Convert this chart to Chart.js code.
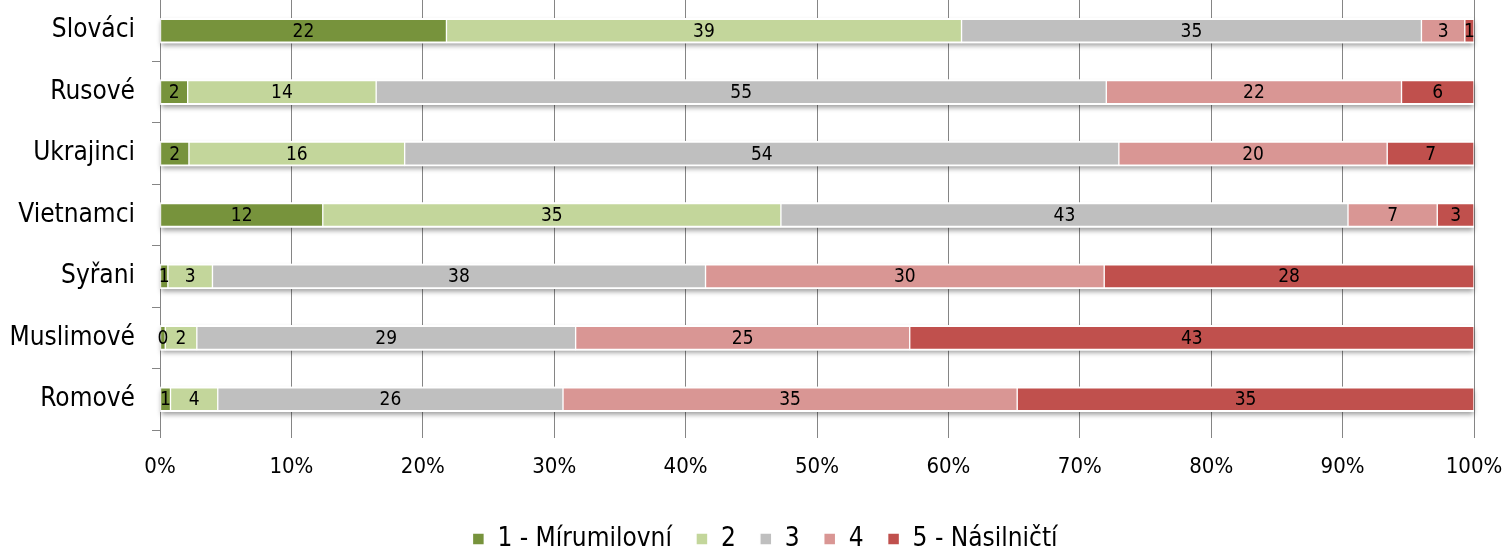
<!DOCTYPE html>
<html>
<head>
<meta charset="utf-8">
<script src="https://cdn.jsdelivr.net/npm/chart.js@4.4.1/dist/chart.umd.min.js"></script>
<style>
  html, body { margin: 0; background: #fff; }
  #wrap { width: 1507px; height: 549px; }
</style>
</head>
<body>
<div id="wrap"><canvas id="chart"></canvas></div>
<script>
const categories = ["Slováci", "Rusové", "Ukrajinci", "Vietnamci", "Syřani", "Muslimové", "Romové"];
const seriesNames = ["1 - Mírumilovní", "2", "3", "4", "5 - Násilničtí"];
// raw shares per group (labels show them rounded), bars are 100 % stacked
const peaceful = [21.8, 2.1, 2.2, 12.4, 0.6, 0.4, 0.8];
const rating2 = [39.2, 14.3, 16.4, 34.9, 3.4, 2.4, 3.6];
const rating3 = [35.0, 55.4, 54.3, 43.2, 37.6, 28.8, 26.3];
const rating4 = [3.3, 22.4, 20.4, 6.8, 30.4, 25.4, 34.6];
const violent = [0.7, 5.5, 6.6, 2.8, 28.2, 42.9, 34.8];
const xTicks = [0, 10, 20, 30, 40, 50, 60, 70, 80, 90, 100];
const colors = ["#77933C", "#C3D69B", "#BFBFBF", "#D99694", "#C0504D"];

const series = [peaceful, rating2, rating3, rating4, violent];
const totals = categories.map((_, i) => series.reduce((s, arr) => s + arr[i], 0));

const FONT = '"DejaVu Sans Condensed", "DejaVu Sans", sans-serif';

// soft shadow under each whole bar row
const barShadow = {
  id: "barShadow",
  beforeDatasetsDraw(chart) {
    const ctx = chart.ctx;
    const first = chart.getDatasetMeta(0).data;
    const last = chart.getDatasetMeta(chart.data.datasets.length - 1).data;
    ctx.save();
    ctx.shadowColor = "rgba(0,0,0,0.4)";
    ctx.shadowBlur = 5;
    ctx.shadowOffsetY = 3;
    ctx.fillStyle = "#fff";
    first.forEach((bar, i) => {
      const h = bar.height;
      ctx.fillRect(bar.base, bar.y - h / 2, last[i].x - bar.base, h);
    });
    ctx.restore();
  }
};

// value labels in the middle of each segment
const barLabels = {
  id: "barLabels",
  afterDatasetsDraw(chart) {
    const ctx = chart.ctx;
    ctx.save();
    ctx.font = "19px " + FONT;
    ctx.fillStyle = "#000";
    ctx.textAlign = "center";
    ctx.textBaseline = "middle";
    chart.data.datasets.forEach((ds, di) => {
      chart.getDatasetMeta(di).data.forEach((bar, i) => {
        ctx.fillText(String(Math.round(ds.raw[i])), (bar.x + bar.base) / 2, bar.y + 1);
      });
    });
    ctx.restore();
  }
};

// legend sits a little right of the page centre, as in the original
const legendShift = {
  id: "legendShift",
  afterLayout(chart) {
    chart.legend.left += 28;
    chart.legend.right += 28;
  }
};

new Chart(document.getElementById("chart"), {
  type: "bar",
  data: {
    labels: categories,
    datasets: series.map((arr, k) => ({
      label: seriesNames[k],
      raw: arr,
      data: arr.map((v, i) => (v / totals[i]) * 100),
      backgroundColor: colors[k],
      borderColor: "#fff",
      borderWidth: { top: 2, bottom: 2, left: 1, right: 1 },
      borderSkipped: false,
      barThickness: 25,
    })),
  },
  options: {
    indexAxis: "y",
    responsive: true,
    maintainAspectRatio: false,
    animation: false,
    layout: { padding: { top: 0, right: 33, bottom: -13, left: 0 } },
    scales: {
      x: {
        stacked: true,
        min: 0,
        max: 100,
        afterBuildTicks: (s) => { s.ticks = xTicks.map((v) => ({ value: v })); },
        afterFit: (s) => { s.height = 72; s.paddingLeft = 0; s.paddingRight = 0; },
        ticks: {
          callback: (v) => v + "%",
          color: "#000",
          font: { family: FONT, size: 22 },
          padding: 16,
          maxRotation: 0,
        },
        grid: { color: "#858585", tickLength: 8 },
        border: { display: false },
      },
      y: {
        stacked: true,
        afterFit: (s) => { s.width = 160; s.paddingTop = 0; s.paddingBottom = 0; },
        ticks: { color: "#000", font: { family: FONT, size: 26 }, padding: 17 },
        grid: { offset: true, drawOnChartArea: false, tickLength: 8, color: "#858585" },
        border: { color: "#858585" },
      },
    },
    plugins: {
      legend: {
        position: "bottom",
        labels: {
          boxWidth: 12,
          boxHeight: 12,
          padding: 24,
          color: "#000",
          font: { family: FONT, size: 26 },
        },
      },
      tooltip: { enabled: false },
    },
  },
  plugins: [barShadow, barLabels, legendShift],
});
</script>
</body>
</html>
